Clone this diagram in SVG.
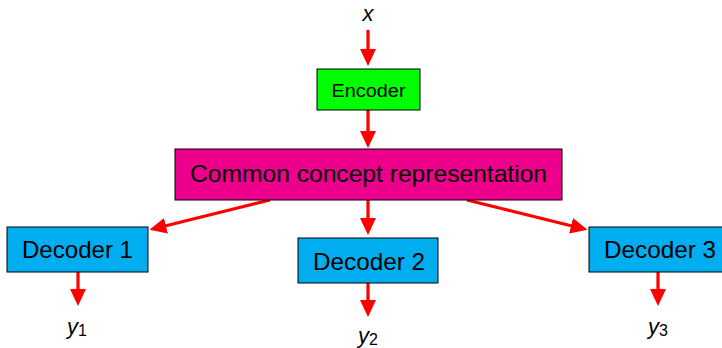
<svg xmlns="http://www.w3.org/2000/svg" width="722" height="348" viewBox="0 0 722 348">
<style>
text{font-family:"Liberation Sans","DejaVu Sans",sans-serif;fill:#000}
.box{stroke:#000;stroke-width:1}
.lbl{font-size:24px;text-anchor:middle}
.var{font-size:22px;font-style:italic;text-anchor:middle}
.sub{font-size:16px;font-style:normal}
.edge{stroke:#ff0000;stroke-width:3.2;fill:none;marker-end:url(#ah)}
</style>
<defs>
<marker id="ah" markerUnits="userSpaceOnUse" markerWidth="17" markerHeight="17" viewBox="0 0 17 17" refX="1" refY="8.5" orient="auto">
<path d="M0,0.5 L17,8.5 L0,16.5 Z" fill="#ff0000"/>
</marker>
</defs>
<rect width="722" height="348" fill="#fff"/>
<g id="connectors">
<line class="edge" x1="368" y1="30" x2="368" y2="50"/>
<line class="edge" x1="368" y1="110" x2="368" y2="132"/>
<line class="edge" x1="270" y1="200" x2="165" y2="226"/>
<line class="edge" x1="368" y1="200" x2="368" y2="219"/>
<line class="edge" x1="467" y1="200" x2="572" y2="226"/>
<line class="edge" x1="78" y1="272" x2="78" y2="290"/>
<line class="edge" x1="368" y1="283" x2="368" y2="301"/>
<line class="edge" x1="658" y1="272" x2="658" y2="290"/>
</g>
<g id="x"><text class="var" x="368" y="21">x</text></g>
<g id="encoder">
<rect class="box" x="317" y="69" width="103" height="41" fill="#00ff00"/>
<text x="368.5" y="97" font-size="18" text-anchor="middle" textLength="74" lengthAdjust="spacingAndGlyphs">Encoder</text>
</g>
<g id="common">
<rect class="box" x="175" y="149" width="387" height="51" fill="#ec008c"/>
<text class="lbl" x="368.5" y="182" textLength="357" lengthAdjust="spacingAndGlyphs">Common concept representation</text>
</g>
<g id="decoder1">
<rect class="box" x="7" y="227" width="141" height="45" fill="#00adef"/>
<text class="lbl" x="77.5" y="258" textLength="111" lengthAdjust="spacingAndGlyphs">Decoder 1</text>
</g>
<g id="decoder2">
<rect class="box" x="298" y="238" width="140" height="45" fill="#00adef"/>
<text class="lbl" x="369" y="270" textLength="112" lengthAdjust="spacingAndGlyphs">Decoder 2</text>
</g>
<g id="decoder3">
<rect class="box" x="589" y="227" width="141" height="45" fill="#00adef"/>
<text class="lbl" x="660" y="258" textLength="112" lengthAdjust="spacingAndGlyphs">Decoder 3</text>
</g>
<g id="y1"><text class="var" x="77" y="334">y<tspan class="sub" dy="2">1</tspan></text></g>
<g id="y2"><text class="var" x="368" y="343">y<tspan class="sub" dy="2">2</tspan></text></g>
<g id="y3"><text class="var" x="658" y="334">y<tspan class="sub" dy="2">3</tspan></text></g>
</svg>
